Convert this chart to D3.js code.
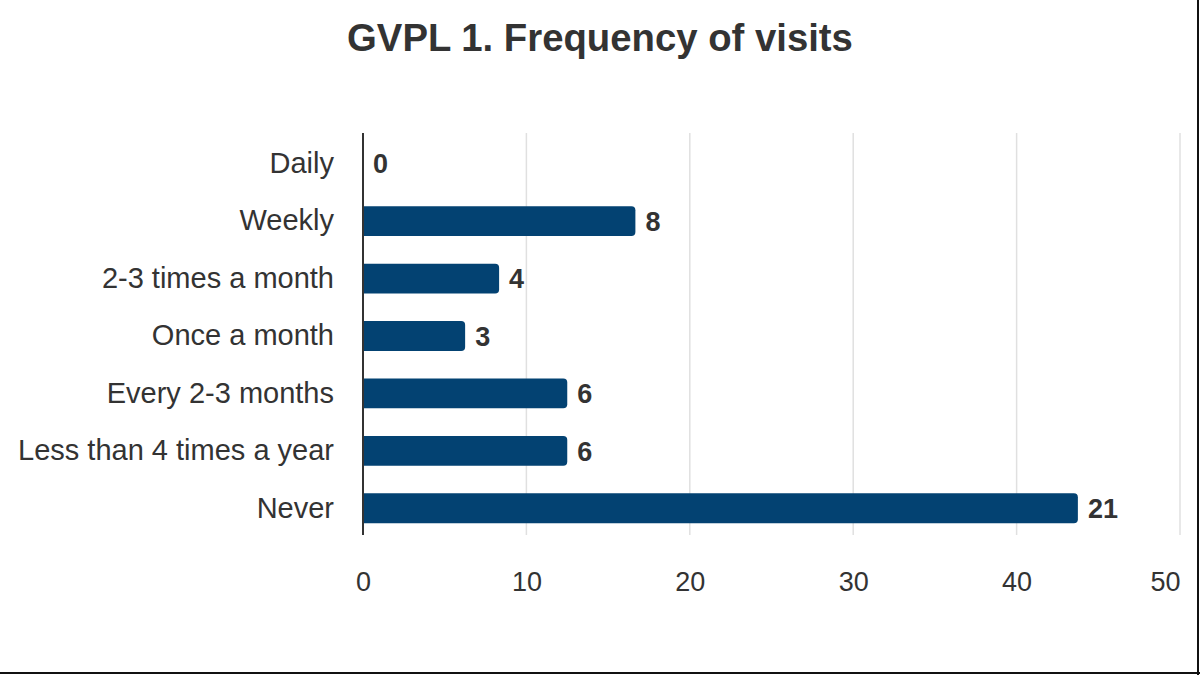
<!DOCTYPE html>
<html>
<head>
<meta charset="utf-8">
<script src="https://cdn.jsdelivr.net/npm/d3@7"></script>
<style>
  body { margin: 0; background: #fff; }
  text { font-family: "Liberation Sans", Arial, sans-serif; fill: #333; }
</style>
</head>
<body>
<div id="canvas"></div>
<script>
"use strict"

let svgWidth = 1200
let svgHeight = 675

let topMargin = 133
let rightMargin = 20
let bottomMargin = 140
let leftMargin = 363

// categories, bar length (percent of respondents) and the count shown on each bar
let categories = ["Daily", "Weekly", "2-3 times a month", "Once a month", "Every 2-3 months", "Less than 4 times a year", "Never"]
let percents = [0, 16.67, 8.33, 6.25, 12.5, 12.5, 43.75]
let counts = [0, 8, 4, 3, 6, 6, 21]
let xTicks = [0, 10, 20, 30, 40, 50]

let data = categories.map(function (c, i) {
    return { category: c, percent: percents[i], count: counts[i] }
})

let svg = d3.select("#canvas")
    .append("svg")
    .attr("width", svgWidth)
    .attr("height", svgHeight)

let xScale = d3.scaleLinear()
    .domain([0, 50])
    .range([leftMargin, svgWidth - rightMargin])

let yScale = d3.scaleBand()
    .domain(categories)
    .range([topMargin + 2, svgHeight - bottomMargin + 2])
    .paddingInner(0.48)
    .paddingOuter(0.24)

// title
svg.append("text")
    .attr("x", svgWidth / 2)
    .attr("y", 51)
    .attr("text-anchor", "middle")
    .style("font-size", "38.3px")
    .style("font-weight", "bold")
    .text("GVPL 1. Frequency of visits")

// gridlines
svg.selectAll("line.grid")
    .data(xTicks.slice(1))
    .join("line")
    .classed("grid", true)
    .attr("x1", d => xScale(d))
    .attr("x2", d => xScale(d))
    .attr("y1", topMargin)
    .attr("y2", svgHeight - bottomMargin)
    .attr("stroke", "#e0e0e0")
    .attr("stroke-width", 1.5)

// x axis labels
let xAxis = svg.append("g")
    .attr("transform", `translate(0, ${svgHeight - bottomMargin + 37})`)
    .call(d3.axisBottom(xScale).tickValues(xTicks).tickSize(0).tickPadding(0))
xAxis.select(".domain").remove()
xAxis.selectAll("text")
    .style("font-size", "27px")
    .attr("dy", "0.72em")
    .attr("fill", "#333")
// keep the last label inside the plot
xAxis.selectAll("text")
    .filter(d => d === xTicks[xTicks.length - 1])
    .attr("text-anchor", "end")
    .attr("x", 0)

// y axis labels
let yAxis = svg.append("g")
    .attr("transform", `translate(${leftMargin - 29}, 0)`)
    .call(d3.axisLeft(yScale).tickSize(0).tickPadding(0))
yAxis.select(".domain").remove()
yAxis.selectAll("text")
    .style("font-size", "29px")
    .attr("fill", "#333")

// bars with rounded right end
let r = 4
svg.selectAll("path.bar")
    .data(data.filter(d => d.percent > 0))
    .join("path")
    .classed("bar", true)
    .attr("fill", "#034272")
    .attr("d", function (d) {
        let x0 = xScale(0), x1 = xScale(d.percent)
        let y0 = yScale(d.category), h = yScale.bandwidth()
        return `M${x0},${y0} H${x1 - r} Q${x1},${y0} ${x1},${y0 + r} V${y0 + h - r} Q${x1},${y0 + h} ${x1 - r},${y0 + h} H${x0} Z`
    })

// value labels
svg.selectAll("text.value")
    .data(data)
    .join("text")
    .classed("value", true)
    .attr("x", d => xScale(d.percent) + 10)
    .attr("y", d => yScale(d.category) + yScale.bandwidth() / 2)
    .attr("dy", "0.36em")
    .style("font-size", "27px")
    .style("font-weight", "bold")
    .text(d => d.count)

// vertical axis line
svg.append("line")
    .attr("x1", xScale(0))
    .attr("x2", xScale(0))
    .attr("y1", topMargin)
    .attr("y2", svgHeight - bottomMargin)
    .attr("stroke", "#333")
    .attr("stroke-width", 2)

// frame on right and bottom edges
svg.append("line")
    .attr("x1", 0).attr("x2", svgWidth)
    .attr("y1", svgHeight - 2).attr("y2", svgHeight - 2)
    .attr("stroke", "#111").attr("stroke-width", 2)
svg.append("line")
    .attr("x1", svgWidth - 2).attr("x2", svgWidth - 2)
    .attr("y1", 0).attr("y2", svgHeight)
    .attr("stroke", "#111").attr("stroke-width", 2)
</script>
</body>
</html>
